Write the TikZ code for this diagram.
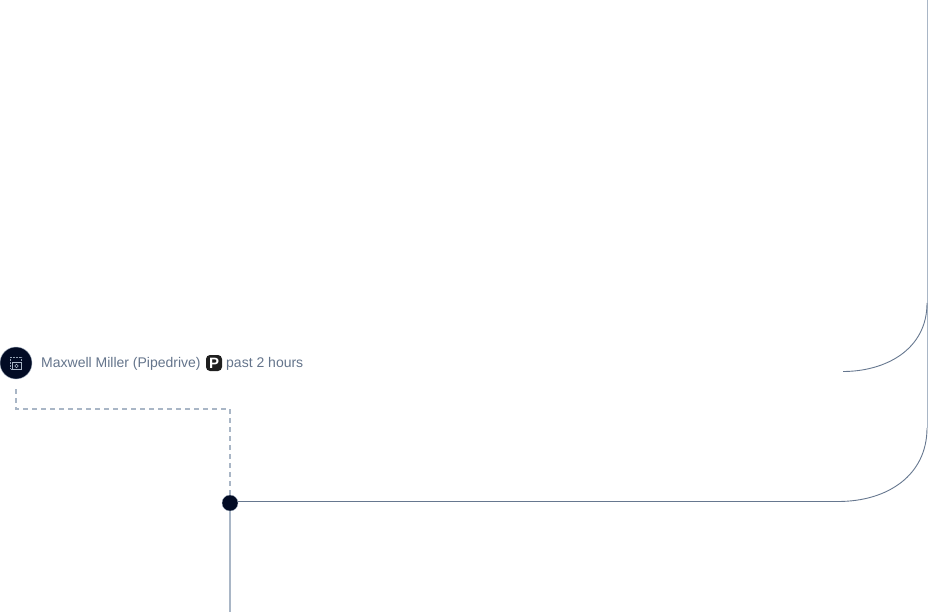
\documentclass[tikz,border=0pt]{standalone}
\usepackage{xcolor}
\usepackage{fontspec}
\setmainfont{Liberation Sans}
\setsansfont{Liberation Sans}
\usetikzlibrary{positioning, calc}
\definecolor{inkdark}{HTML}{020B24}
\definecolor{slatetext}{HTML}{64748B}
\definecolor{slateline}{HTML}{66778F}
\definecolor{palerail}{HTML}{A9B6C6}

\begin{document}
\begin{tikzpicture}[
    x=1pt, y=-1pt,
    node distance=4pt,
    avatar/.style={circle, fill=inkdark, draw=palerail, line width=0.4pt, minimum size=32pt, inner sep=0pt},
    hub/.style={circle, fill=inkdark, draw=palerail, line width=0.3pt, minimum size=16pt, inner sep=0pt},
    caption/.style={font=\fontsize{14}{16}\selectfont, text=slatetext, inner sep=0pt, anchor=base west},
    logo/.style={rectangle, rounded corners=4pt, fill=black!88, text=white, minimum size=16pt, inner sep=0pt, font=\fontsize{15}{15}\selectfont\bfseries},
    rail/.style={palerail, line width=1.5pt},
    thinline/.style={slateline, line width=0.9pt},
    trace/.style={palerail, line width=1.5pt, dash pattern=on 4.5pt off 4.5pt}
]
\useasboundingbox (0,0) rectangle (928,612);

% Row with the account name
\node[avatar] (account) at (16,363) {};
\node[caption] (name) at (41,367) {Maxwell Miller (Pipedrive)};
\node[logo] (logo) at (214,363) {P};
\node[caption] (since) at (226,367) {past 2 hours};

% Small camera glyph in the avatar
\draw[palerail!70!slatetext, line width=0.5pt, densely dotted] (10.5,357) rectangle (21.5,369);
\draw[palerail, line width=0.6pt] (12,362.5) rectangle (21,369.5);
\draw[palerail, line width=0.6pt] (16.5,366) circle (1.7);

% Junction
\node[hub] (junction) at (230,503) {};
\coordinate (tracestart) at (16,389);
\coordinate (tracebend) at (16,409);
\coordinate (tracecorner) at (230,409);
\coordinate (railend) at (230,612);
\coordinate (edgetop) at (927.5,0);
\coordinate (edgebend) at (927,428);
\coordinate (edgeup) at (927,303);
\coordinate (stub) at (843,371.5);

% Connectors
\draw[trace] (tracestart) -- (tracebend) -- (tracecorner) -- (junction.north);
\draw[rail] (junction.south) -- (railend);
\draw[rail] (edgetop) -- (927.5,428);
\draw[thinline] (junction.east |- 0,501.5) -- (838,501.5) .. controls (888,501.5) and (927,475) .. (edgebend);
\draw[thinline] (stub) .. controls (885,371.5) and (927,350) .. (edgeup);

\end{tikzpicture}
\end{document}
